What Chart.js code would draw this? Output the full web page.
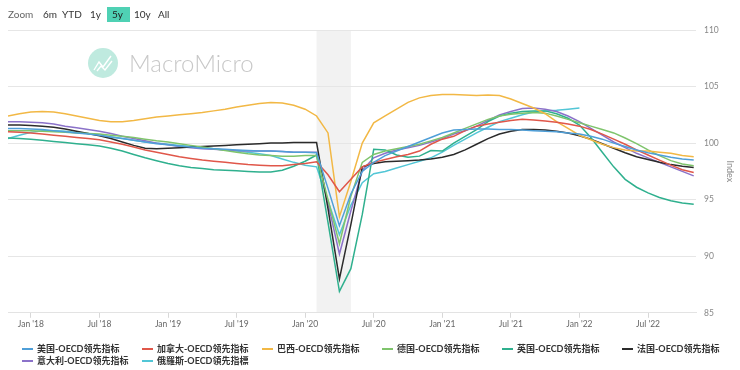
<!DOCTYPE html>
<html>
<head>
<meta charset="utf-8">
<script src="https://cdn.jsdelivr.net/npm/chart.js@4"></script>
<style>
  html, body { margin: 0; padding: 0; background: #fff; }
  #wrap { width: 740px; height: 370px; position: relative; }
</style>
</head>
<body>
<div id="wrap"><canvas id="chart" width="740" height="370"></canvas></div>
<script>
// months are counted from Jan 2018 (0); the series start in Nov 2017 (-2)
const firstMonth = -2;

const xTickValues = [0, 6, 12, 18, 24, 30, 36, 42, 48, 54];
const xTickLabels = ["Jan '18", "Jul '18", "Jan '19", "Jul '19", "Jan '20", "Jul '20", "Jan '21", "Jul '21", "Jan '22", "Jul '22"];
const yTicks = [85, 90, 95, 100, 105, 110];

// recession band, Feb 2020 -> May 2020
const bandFrom = 25;
const bandTo = 28;

const seriesNames = ['美国-OECD领先指标', '加拿大-OECD领先指标', '巴西-OECD领先指标', '德国-OECD领先指标',
  '英国-OECD领先指标', '法国-OECD领先指标', '意大利-OECD领先指标', '俄羅斯-OECD領先指標'];

const usa = [101.3, 101.3, 101.25, 101.2, 101.1, 101.0, 100.9, 100.8, 100.7, 100.55,
  100.4, 100.25, 100.1, 99.95, 99.85, 99.75, 99.65, 99.55, 99.5, 99.45,
  99.4, 99.35, 99.3, 99.3, 99.25, 99.2, 99.2, 99.15, 96.0, 92.7,
  95.5, 97.5, 98.3, 98.9, 99.3, 99.7, 100.1, 100.5, 100.9, 101.15,
  101.2, 101.25, 101.25, 101.2, 101.2, 101.15, 101.1, 101.05, 101.0, 100.9,
  100.8, 100.6, 100.35, 100.0, 99.7, 99.4, 99.15, 98.95, 98.75, 98.6, 98.5];
const canada = [101.0, 100.95, 100.9, 100.8, 100.7, 100.6, 100.5, 100.4, 100.3, 100.1,
  99.9, 99.65, 99.4, 99.2, 99.0, 98.8, 98.65, 98.5, 98.4, 98.3,
  98.2, 98.1, 98.05, 98.0, 98.0, 98.1, 98.2, 98.35, 97.2, 95.7,
  96.8, 97.9, 98.3, 98.55, 98.8, 99.0, 99.3, 99.9, 100.35, 100.6,
  101.1, 101.5, 101.7, 101.85, 102.0, 102.1, 102.05, 101.95, 101.85, 101.7,
  101.5, 101.2, 100.8, 100.35, 99.9, 99.4, 98.95, 98.5, 98.05, 97.65, 97.4];
const brazil = [102.4, 102.6, 102.75, 102.8, 102.75, 102.6, 102.4, 102.2, 102.0, 101.9,
  101.9, 102.0, 102.15, 102.3, 102.4, 102.5, 102.6, 102.7, 102.85, 103.0,
  103.2, 103.35, 103.5, 103.6, 103.55, 103.35, 103.0, 102.4, 100.9, 93.5,
  96.6, 100.0, 101.8, 102.4, 103.0, 103.6, 104.0, 104.2, 104.3, 104.3,
  104.25, 104.2, 104.25, 104.2, 103.9, 103.5, 103.1, 102.6, 101.9, 101.3,
  100.7, 100.3, 99.9, 99.6, 99.4, 99.3, 99.3, 99.2, 99.1, 98.9, 98.8];
const germany = [101.1, 101.1, 101.1, 101.05, 101.0, 100.95, 100.9, 100.85, 100.8, 100.7,
  100.6, 100.5, 100.35, 100.2, 100.1, 99.95, 99.8, 99.65, 99.5, 99.35,
  99.2, 99.05, 98.95, 98.9, 98.85, 98.85, 98.9, 98.9, 95.0, 91.1,
  95.3, 98.3, 99.0, 99.3, 99.5, 99.7, 99.9, 100.2, 100.5, 100.9,
  101.3, 101.7, 102.1, 102.4, 102.55, 102.65, 102.7, 102.65, 102.4, 102.1,
  101.8, 101.5, 101.2, 100.9, 100.45, 99.95, 99.4, 98.9, 98.45, 98.15, 98.0];
const uk = [100.45, 100.4, 100.35, 100.25, 100.15, 100.05, 99.95, 99.85, 99.75, 99.55,
  99.3, 99.0, 98.7, 98.45, 98.2, 98.0, 97.85, 97.75, 97.65, 97.6,
  97.55, 97.5, 97.45, 97.45, 97.6, 97.95, 98.4, 98.95, 93.0, 86.9,
  88.9, 93.7, 99.45, 99.4, 98.95, 98.75, 98.85, 99.35, 99.3, 100.0,
  100.6, 101.2, 101.9, 102.4, 102.65, 102.8, 102.85, 102.85, 102.6, 102.2,
  101.6, 100.5, 99.2, 97.9, 96.8, 96.1, 95.6, 95.2, 94.9, 94.7, 94.6];
const france = [101.6, 101.6, 101.55, 101.5, 101.4, 101.25, 101.05, 100.85, 100.65, 100.4,
  100.1, 99.8, 99.55, 99.5, 99.55, 99.6, 99.65, 99.7, 99.75, 99.8,
  99.85, 99.9, 99.95, 100.0, 100.0, 100.05, 100.05, 100.05, 94.2, 88.0,
  92.8, 97.9, 98.2, 98.35, 98.4, 98.45, 98.5, 98.6, 98.75, 99.0,
  99.4, 99.9, 100.4, 100.8, 101.05, 101.2, 101.2, 101.15, 101.05, 100.9,
  100.65, 100.35, 99.95, 99.55, 99.15, 98.8, 98.55, 98.3, 98.1, 97.95, 97.85];
const italy = [101.9, 101.9, 101.85, 101.8, 101.7, 101.5, 101.35, 101.2, 101.05, 100.85,
  100.6, 100.4, 100.2, 100.0, 99.85, 99.7, 99.6, 99.5, 99.45, 99.4,
  99.35, 99.3, 99.3, 99.3, 99.25, 99.2, 99.2, 99.2, 94.7, 90.2,
  94.0, 97.6, 98.7, 99.1, 99.4, 99.6, 99.8, 100.1, 100.4, 100.8,
  101.1, 101.5, 102.0, 102.5, 102.8, 103.05, 103.1, 103.0, 102.8, 102.4,
  101.9, 101.3, 100.7, 100.1, 99.6, 99.1, 98.7, 98.3, 97.9, 97.5, 97.1];
const russia = [100.4, 100.7, 100.95, 101.1, 101.1, 101.05, 100.95, 100.85, 100.7, 100.55,
  100.4, 100.25, 100.1, 100.0, 99.9, 99.8, 99.7, 99.6, 99.5, 99.4,
  99.3, 99.2, 99.05, 98.9, 98.6, 98.3, 98.05, 97.9, 94.9, 91.9,
  94.5, 96.5, 97.3, 97.5, 97.8, 98.1, 98.4, 98.7, 99.2, 99.8,
  100.35, 100.9, 101.4, 101.9, 102.2, 102.5, 102.75, 102.85, 102.9, 103.0, 103.1];

const seriesValues = [usa, canada, brazil, germany, uk, france, italy, russia];
const seriesColors = ['#4f9fd8', '#e0574a', '#f2b845', '#7fc46c', '#2fb08e', '#2b2b2b', '#8b72c9', '#52c6d6'];

const FONT = "Lato, 'Noto Sans CJK SC', sans-serif";
Chart.defaults.font.family = FONT;

// grey band behind the lines
const bandPlugin = {
  id: 'band',
  beforeDraw(chart) {
    const { ctx, chartArea, scales } = chart;
    const x1 = scales.x.getPixelForValue(bandFrom);
    const x2 = scales.x.getPixelForValue(bandTo);
    ctx.save();
    ctx.fillStyle = '#f2f2f2';
    ctx.fillRect(x1, chartArea.top, x2 - x1, chartArea.bottom - chartArea.top);
    ctx.restore();
  }
};

// watermark, range buttons and the legend in fixed-width columns
const decorPlugin = {
  id: 'decor',
  beforeDatasetsDraw(chart) {
    const ctx = chart.ctx;
    ctx.save();
    ctx.fillStyle = '#bfeadf';
    ctx.beginPath();
    ctx.arc(103, 63, 15, 0, Math.PI * 2);
    ctx.fill();
    ctx.strokeStyle = '#ffffff';
    ctx.lineWidth = 1.4;
    ctx.beginPath();
    ctx.moveTo(94, 70); ctx.lineTo(99, 62); ctx.lineTo(103, 67); ctx.lineTo(111, 56);
    ctx.moveTo(97, 71); ctx.lineTo(101, 66); ctx.lineTo(105, 70); ctx.lineTo(112, 61);
    ctx.stroke();
    ctx.fillStyle = '#c8c8c8';
    ctx.font = '300 24px Lato';
    ctx.textBaseline = 'alphabetic';
    ctx.fillText('MacroMicro', 129, 72);
    ctx.restore();
  },
  afterDraw(chart) {
    const ctx = chart.ctx;
    ctx.save();
    // range selector
    ctx.fillStyle = '#4fd1b4';
    ctx.fillRect(107, 7, 23, 15);
    ctx.font = '10px ' + FONT;
    ctx.textBaseline = 'middle';
    const buttons = [['Zoom', 8, '#666'], ['6m', 43, '#333'], ['YTD', 62, '#333'], ['1y', 90, '#333'],
      ['5y', 112, '#222'], ['10y', 134, '#333'], ['All', 158, '#333']];
    buttons.forEach(([t, x, c]) => { ctx.fillStyle = c; ctx.fillText(t, x, 14.5); });

    // legend
    ctx.font = 'bold 9px ' + FONT;
    seriesNames.forEach((name, i) => {
      const col = i < 6 ? i : i - 6;
      const x = 22 + col * 120;
      const y = i < 6 ? 349 : 361;
      ctx.strokeStyle = seriesColors[i];
      ctx.lineWidth = 2;
      ctx.beginPath();
      ctx.moveTo(x, y); ctx.lineTo(x + 11, y);
      ctx.stroke();
      ctx.fillStyle = '#333';
      ctx.fillText(name, x + 15, y + 0.5);
    });
    ctx.restore();
  }
};

const datasets = seriesNames.map((name, i) => ({
  label: name,
  data: seriesValues[i].map((v, k) => ({ x: firstMonth + k, y: v })),
  borderColor: seriesColors[i],
  backgroundColor: seriesColors[i],
  borderWidth: 1.5,
  pointRadius: 0,
  tension: 0,
  fill: false
}));

new Chart(document.getElementById('chart'), {
  type: 'line',
  data: { datasets },
  plugins: [bandPlugin, decorPlugin],
  options: {
    responsive: false,
    animation: false,
    events: [],
    layout: { padding: { left: 8, right: 0, top: 30, bottom: 40 } },
    plugins: { legend: { display: false }, tooltip: { enabled: false } },
    scales: {
      x: {
        type: 'linear',
        min: -2,
        max: 58.2,
        afterBuildTicks(axis) { axis.ticks = xTickValues.map(v => ({ value: v })); },
        ticks: {
          autoSkip: false,
          maxRotation: 0,
          padding: 1,
          color: '#666',
          font: { size: 8.5 },
          callback(value) { return xTickLabels[xTickValues.indexOf(value)]; }
        },
        grid: { drawOnChartArea: false, drawTicks: true, tickLength: 5, color: '#d8d8d8' },
        border: { display: true, color: '#e3e3e3' }
      },
      y: {
        position: 'right',
        min: yTicks[0],
        max: yTicks[yTicks.length - 1],
        afterBuildTicks(axis) { axis.ticks = yTicks.map(v => ({ value: v })); },
        afterFit(axis) { axis.width = 44; },
        ticks: { padding: 8, color: '#888', font: { size: 8.5 } },
        grid: { color: '#e6e6e6', drawTicks: false },
        border: { display: false },
        title: { display: true, text: 'Index', color: '#888', font: { size: 9 }, padding: { top: 4.6, bottom: 6.6 } }
      }
    }
  }
});
</script>
</body>
</html>
